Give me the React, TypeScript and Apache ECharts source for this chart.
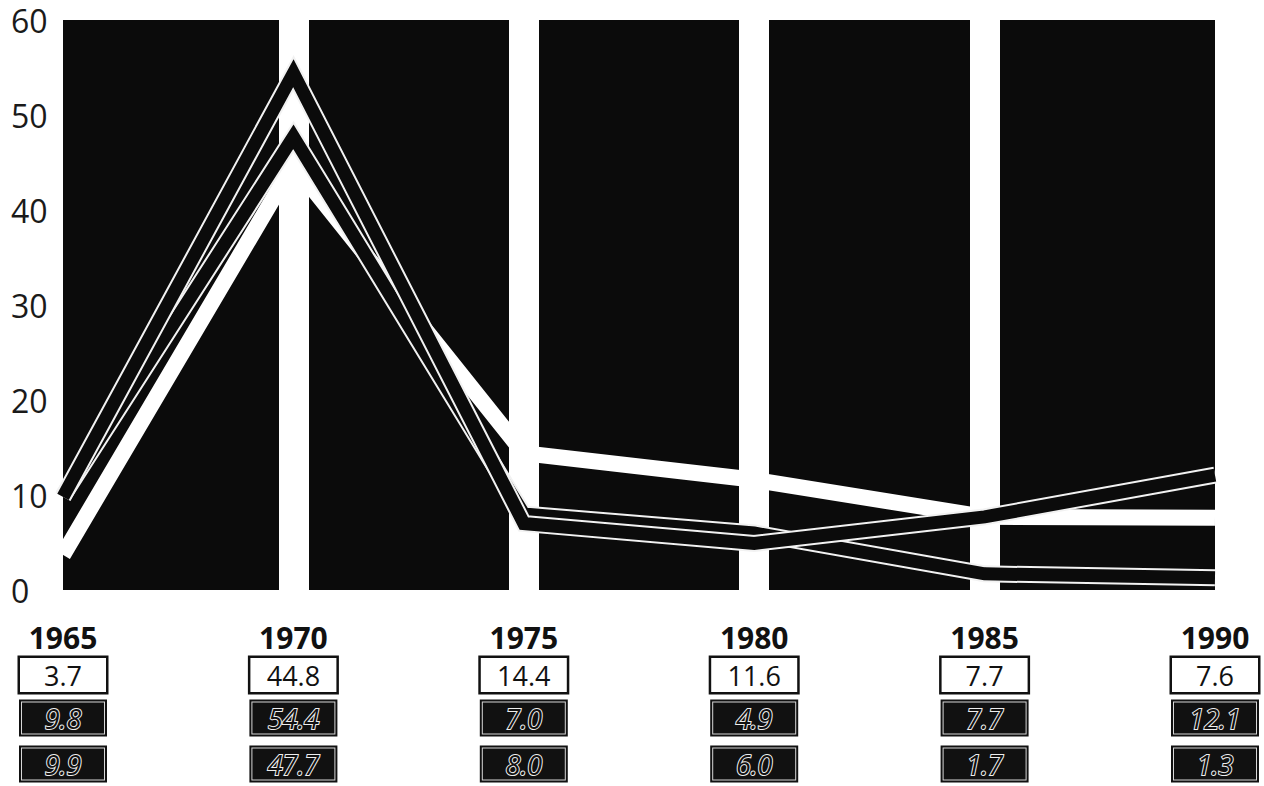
import React, { useEffect, useRef } from "react";
import * as echarts from "echarts";

const years = [1965, 1970, 1975, 1980, 1985, 1990];
const seriesA = [3.7, 44.8, 14.4, 11.6, 7.7, 7.6];
const seriesB = [9.8, 54.4, 7.0, 4.9, 7.7, 12.1];
const seriesC = [9.9, 47.7, 8.0, 6.0, 1.7, 1.3];
const yTicks = [0, 10, 20, 30, 40, 50, 60];

const FONT = "'Open Sans', 'DejaVu Sans', sans-serif";

const pairs = (vals: number[]) => years.map((y, i) => [y, vals[i]]);
const valueAt = (vals: number[]) => (v: number) => {
  const i = years.indexOf(Math.round(v));
  return i >= 0 ? vals[i].toFixed(1) : "";
};

function baseX(extra: any) {
  return {
    type: "value",
    min: years[0],
    max: years[years.length - 1],
    interval: 5,
    position: "bottom",
    axisLine: { show: false },
    axisTick: { show: false },
    splitLine: { show: false },
    ...extra,
  };
}

export default function App() {
  const ref = useRef<HTMLDivElement>(null);
  useEffect(() => {
    if (!ref.current) return;
    const chart = echarts.init(ref.current, null, { renderer: "svg" });

    const darkBox = (vals: number[], margin: number) =>
      baseX({
        axisLabel: {
          show: true,
          margin,
          verticalAlign: "middle",
          showMinLabel: true,
          showMaxLabel: true,
          hideOverlap: false,
          backgroundColor: "#111",
          padding: 3,
          formatter: (v: number) => `{d|${valueAt(vals)(v)}}`,
          rich: {
            d: {
              backgroundColor: "#111",
              borderColor: "#d8d8d8",
              borderWidth: 1,
              width: 82,
              height: 31,
              lineHeight: 31,
              align: "center",
              fontSize: 27,
              fontStyle: "italic",
              fontFamily: FONT,
              color: "#111",
              textBorderColor: "#eeeeee",
              textBorderWidth: 2,
            },
          },
        },
      });

    const lineBase = (vals: number[], color: string, width: number, z: number) => ({
      type: "line",
      data: pairs(vals),
      symbol: "none",
      z,
      lineStyle: { color, width, join: "miter", miterLimit: 30, cap: "butt" },
    });

    chart.setOption({
      animation: false,
      backgroundColor: "#ffffff",
      grid: {
        left: 63,
        right: 49,
        top: 19,
        bottom: 196,
        show: true,
        backgroundColor: "#0b0b0b",
        borderWidth: 0,
      },
      xAxis: [
        baseX({
          splitLine: {
            show: true,
            showMinLine: false,
            showMaxLine: false,
            lineStyle: { color: "#ffffff", width: 30 },
          },
          axisLabel: {
            show: true,
            margin: 47,
            verticalAlign: "middle",
            showMinLabel: true,
            showMaxLabel: true,
            hideOverlap: false,
            fontSize: 30,
            fontWeight: "bold",
            fontFamily: FONT,
            color: "#111",
            formatter: (v: number) => String(Math.round(v)),
          },
        }),
        baseX({
          axisLabel: {
            show: true,
            margin: 85,
            verticalAlign: "middle",
            showMinLabel: true,
            showMaxLabel: true,
            hideOverlap: false,
            formatter: (v: number) => `{b|${valueAt(seriesA)(v)}}`,
            rich: {
              b: {
                backgroundColor: "#ffffff",
                borderColor: "#111",
                borderWidth: 2.5,
                width: 86,
                height: 34,
                lineHeight: 34,
                align: "center",
                fontSize: 27,
                fontFamily: FONT,
                color: "#111",
              },
            },
          },
        }),
        darkBox(seriesB, 128),
        darkBox(seriesC, 174),
      ],
      yAxis: {
        type: "value",
        min: yTicks[0],
        max: yTicks[yTicks.length - 1],
        interval: 10,
        axisLine: { show: false },
        axisTick: { show: false },
        splitLine: { show: false },
        axisLabel: {
          margin: 52,
          align: "left",
          verticalAlign: "middle",
          fontSize: 32,
          lineHeight: 32,
          padding: [8, 0, 0, 0],
          fontFamily: FONT,
          color: "#1a1a1a",
          formatter: (v: number) => (yTicks.includes(v) ? String(v) : ""),
        },
      },
      series: [
        lineBase(seriesA, "#ffffff", 16, 2),
        lineBase(seriesC, "#f2f2f2", 17, 3),
        lineBase(seriesC, "#0b0b0b", 13, 4),
        lineBase(seriesB, "#f2f2f2", 17, 5),
        lineBase(seriesB, "#0b0b0b", 13, 6),
      ],
    });
    return () => chart.dispose();
  }, []);

  return (
    <div
      ref={ref}
      style={{ position: "fixed", left: 0, top: 0, width: 1264, height: 786 }}
    />
  );
}
